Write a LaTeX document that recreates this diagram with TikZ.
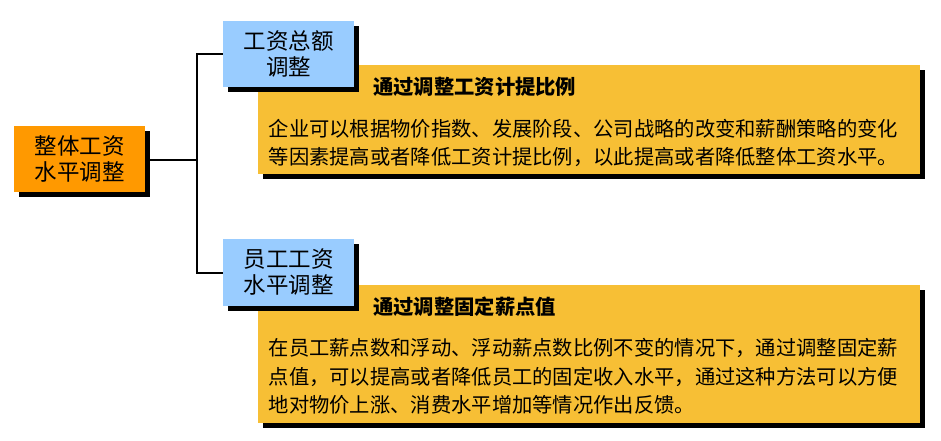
\documentclass[tikz,border=0pt]{standalone}
\usepackage{fontspec}
\newfontfamily\cjk{Noto Sans CJK SC}
\usetikzlibrary{shadows}
\definecolor{mainorange}{HTML}{FF9900}
\definecolor{boxblue}{HTML}{99CCFF}
\definecolor{boxyellow}{HTML}{F7BF35}
\tikzset{
  blkshadow/.style={general shadow={fill=black, shadow xshift=5pt, shadow yshift=-5pt}},
  mainbox/.style={blkshadow, fill=mainorange, minimum width=131pt, minimum height=66pt, inner sep=0pt, align=center, font=\cjk\fontsize{22.5}{26}\selectfont},
  bluebox/.style={blkshadow, fill=boxblue, minimum width=131pt, minimum height=66pt, inner sep=0pt, align=center, font=\cjk\fontsize{22.5}{26}\selectfont},
  yellowbox/.style={blkshadow, fill=boxyellow, minimum width=662pt, inner sep=0pt},
  titletext/.style={anchor=west, inner sep=0pt, text height=17pt, text depth=1.5pt, font=\cjk\bfseries\fontsize{20.3}{24}\selectfont},
  bodytext/.style={anchor=west, inner sep=0pt, text height=17pt, text depth=1.5pt, font=\cjk\fontsize{20.3}{24}\selectfont},
  conn/.style={draw=black, line width=2pt}
}
\begin{document}
\begin{tikzpicture}[x=1pt, y=-1pt]
\useasboundingbox (0,0) rectangle (941,441);
\coordinate (junction) at (197,160);
\node[mainbox] (main) at (79.5,159) {整体工资\\水平调整};
\node[yellowbox, minimum height=109pt] (y1) at (589,119.5) {};
\node[yellowbox, minimum height=138pt] (y2) at (589,354) {};
\node[bluebox] (b1) at (288.5,54) {工资总额\\调整};
\node[bluebox, minimum height=67pt] (b2) at (288.5,272.5) {员工工资\\水平调整};
\draw[conn] (main.east |- junction) -- (junction);
\draw[conn] (junction) |- (b1.west);
\draw[conn] (junction) |- (b2.west);
\node[titletext] (t1) at (373,87) {通过调整工资计提比例};
\node[bodytext] (l11) at (268.5,129) {企业可以根据物价指数、发展阶段、公司战略的改变和薪酬策略的变化};
\node[bodytext] (l12) at (268.5,157) {等因素提高或者降低工资计提比例，以此提高或者降低整体工资水平。};
\node[titletext] (t2) at (373,307) {通过调整固定薪点值};
\node[bodytext] (l21) at (268.5,348) {在员工薪点数和浮动、浮动薪点数比例不变的情况下，通过调整固定薪};
\node[bodytext] (l22) at (268.5,376.5) {点值，可以提高或者降低员工的固定收入水平，通过这种方法可以方便};
\node[bodytext] (l23) at (268.5,405) {地对物价上涨、消费水平增加等情况作出反馈。};
\end{tikzpicture}
\end{document}
